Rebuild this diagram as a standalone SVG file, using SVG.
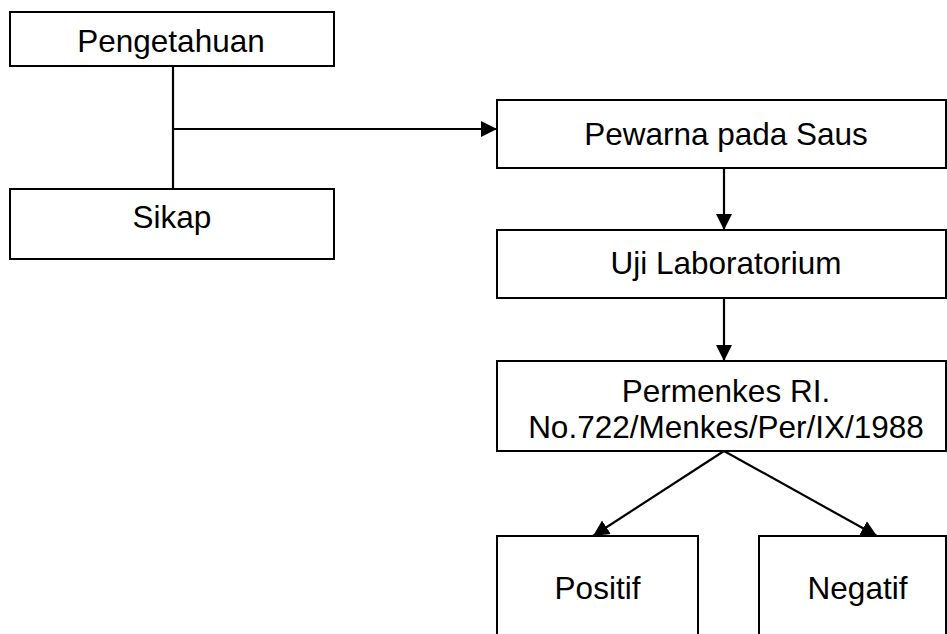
<svg xmlns="http://www.w3.org/2000/svg" width="947" height="634" viewBox="0 0 947 634">
<defs>
<marker id="ah" markerUnits="userSpaceOnUse" markerWidth="17" markerHeight="17" refX="16" refY="8.5" orient="auto">
<path d="M0,0.5 L16,8.5 L0,16.5 z" fill="#000"/>
</marker>
<style>
.box{fill:#fff;stroke:#000;stroke-width:2}
.t{font-family:"Liberation Sans",Arial,sans-serif;font-size:31.5px;fill:#000;text-anchor:middle}
.c{fill:none;stroke:#000;stroke-width:2.2}
</style>
</defs>
<rect width="947" height="634" fill="#fff"/>
<g id="connectors">
<line class="c" x1="173" y1="66" x2="173" y2="189"/>
<line class="c" x1="173" y1="129" x2="497" y2="129" marker-end="url(#ah)"/>
<line class="c" x1="724" y1="168" x2="724" y2="230" marker-end="url(#ah)"/>
<line class="c" x1="724" y1="298" x2="724" y2="361" marker-end="url(#ah)"/>
<line class="c" x1="724" y1="451" x2="593" y2="536" marker-end="url(#ah)"/>
<line class="c" x1="724" y1="451" x2="877" y2="536" marker-end="url(#ah)"/>
</g>
<g id="pengetahuan">
<rect class="box" x="10" y="12" width="324" height="54"/>
<text class="t" x="171" y="52">Pengetahuan</text>
</g>
<g id="sikap">
<rect class="box" x="10" y="189" width="324" height="70"/>
<text class="t" x="172" y="228">Sikap</text>
</g>
<g id="pewarna">
<rect class="box" x="497" y="100" width="449" height="68"/>
<text class="t" x="726" y="145">Pewarna pada Saus</text>
</g>
<g id="uji">
<rect class="box" x="497" y="230" width="449" height="68"/>
<text class="t" x="726" y="274">Uji Laboratorium</text>
</g>
<g id="permenkes">
<rect class="box" x="497" y="361" width="449" height="90"/>
<text class="t" x="726" y="402">Permenkes RI.</text>
<text class="t" x="726" y="438">No.722/Menkes/Per/IX/1988</text>
</g>
<g id="positif">
<rect class="box" x="497" y="536" width="201" height="110"/>
<text class="t" x="597.5" y="599">Positif</text>
</g>
<g id="negatif">
<rect class="box" x="759" y="536" width="187" height="110"/>
<text class="t" x="857.5" y="599">Negatif</text>
</g>
</svg>
